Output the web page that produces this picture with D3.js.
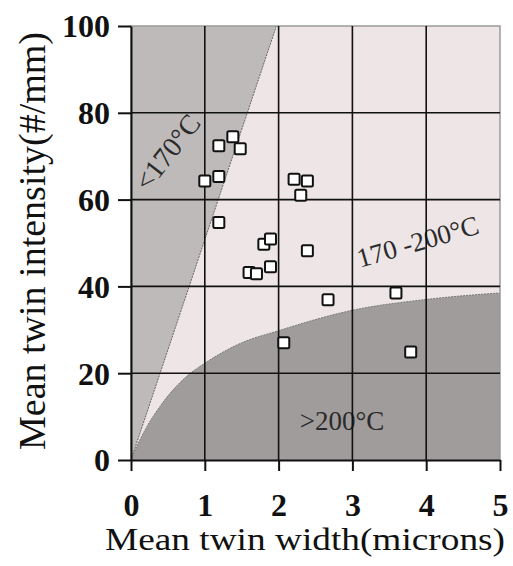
<!DOCTYPE html>
<meta charset="utf-8">

<!-- Import D3.js -->
<script src="https://d3js.org/d3.v7.min.js"></script>

<style>
body { margin: 0; background: #fff; }
text { font-family: "Liberation Serif", "Times New Roman", serif; }
</style>

<body>
<script>
// Measured points: mean twin width (microns) and mean twin intensity (#/mm)
var twinWidth = [1.0, 1.19, 1.19, 1.38, 1.48, 1.19, 2.21, 2.39, 2.30, 1.80, 1.89, 2.39, 1.60, 1.70, 1.89, 2.67, 3.59, 2.07, 3.79];
var twinIntensity = [64.3, 72.4, 65.3, 74.5, 71.7, 54.7, 64.7, 64.3, 61.0, 49.7, 50.9, 48.2, 43.2, 42.9, 44.5, 36.9, 38.5, 27.0, 24.9];

// Boundary between <170°C and 170-200°C (straight line)
var lowBoundX = [0, 1.97];
var lowBoundY = [0, 100];

// Boundary between 170-200°C and >200°C (curve)
var highBoundX = [0, 0.1, 0.2, 0.4, 0.77, 1, 1.5, 2, 3, 4, 5];
var highBoundY = [0, 3.9, 7.2, 12.5, 19.5, 22.3, 27, 29.8, 34.5, 37, 38.5];

// Tick labels
var xTicks = [0, 1, 2, 3, 4, 5];
var yTicks = [0, 20, 40, 60, 80, 100];

// Dimensions and margins
var margin = {top: 26, right: 13, bottom: 106, left: 131},
    width = 513 - margin.left - margin.right,
    height = 566 - margin.top - margin.bottom;

var svg = d3.select("body")
  .append("svg")
  .attr("width", 513)
  .attr("height", 566)
  .append("g")
  .attr("transform", "translate(" + margin.left + "," + margin.top + ")");

var x = d3.scaleLinear().domain([0, 5]).range([0, width]);
var y = d3.scaleLinear().domain([0, 100]).range([height, 0]);

// Background: 170-200°C zone
svg.append("rect")
  .attr("width", width)
  .attr("height", height)
  .attr("fill", "#ede5e6");

// <170°C zone, left of the straight boundary
var lowPts = lowBoundX.map(function(d, i) { return [d, lowBoundY[i]]; });
svg.append("path")
  .datum(lowPts.concat([[0, 100]]))
  .attr("fill", "#bfbaba")
  .attr("d", d3.line()
    .x(function(d) { return x(d[0]); })
    .y(function(d) { return y(d[1]); }));

// >200°C zone, under the curve
var highPts = highBoundX.map(function(d, i) { return [d, highBoundY[i]]; });
svg.append("path")
  .datum(highPts)
  .attr("fill", "#a09c9c")
  .attr("d", d3.area()
    .curve(d3.curveMonotoneX)
    .x(function(d) { return x(d[0]); })
    .y0(y(0))
    .y1(function(d) { return y(d[1]); }));

// Dotted boundary lines
svg.append("path")
  .datum(lowPts)
  .attr("fill", "none")
  .attr("stroke", "#666")
  .attr("stroke-width", 1)
  .attr("stroke-dasharray", "2,1")
  .attr("d", d3.line()
    .x(function(d) { return x(d[0]); })
    .y(function(d) { return y(d[1]); }));

svg.append("path")
  .datum(highPts)
  .attr("fill", "none")
  .attr("stroke", "#777")
  .attr("stroke-width", 1)
  .attr("stroke-dasharray", "2,1")
  .attr("d", d3.line()
    .curve(d3.curveMonotoneX)
    .x(function(d) { return x(d[0]); })
    .y(function(d) { return y(d[1]); }));

// Zone labels
svg.append("text")
  .attr("transform", "translate(" + (x(0.5) + 7) + "," + (y(70) + 2) + ") rotate(-52)")
  .attr("text-anchor", "middle")
  .attr("font-size", 28)
  .attr("fill", "#2a2a2a")
  .text("<170°C");

svg.append("text")
  .attr("transform", "translate(" + x(3.92) + "," + (y(49) + 3) + ") rotate(-16)")
  .attr("text-anchor", "middle")
  .attr("font-size", 27)
  .attr("fill", "#2a2a2a")
  .text("170 -200°C");

svg.append("text")
  .attr("x", x(2.86))
  .attr("y", y(7))
  .attr("text-anchor", "middle")
  .attr("font-size", 27)
  .attr("fill", "#2a2a2a")
  .text(">200°C");

// Frame on top and right
svg.append("rect")
  .attr("width", width)
  .attr("height", height)
  .attr("fill", "none")
  .attr("stroke", "#9a9a9a")
  .attr("stroke-width", 1.5);

// Grid lines
svg.selectAll(".vgrid")
  .data(xTicks.slice(1, -1))
  .enter()
  .append("line")
  .attr("class", "vgrid")
  .attr("x1", function(d) { return x(d); })
  .attr("x2", function(d) { return x(d); })
  .attr("y1", 0)
  .attr("y2", height)
  .attr("stroke", "#111")
  .attr("stroke-width", 1.6);

svg.selectAll(".hgrid")
  .data(yTicks.slice(1, -1))
  .enter()
  .append("line")
  .attr("class", "hgrid")
  .attr("x1", 0)
  .attr("x2", width)
  .attr("y1", function(d) { return y(d); })
  .attr("y2", function(d) { return y(d); })
  .attr("stroke", "#111")
  .attr("stroke-width", 1.6);

// Axes
var xAxis = svg.append("g")
  .attr("transform", "translate(0," + height + ")")
  .call(d3.axisBottom(x).tickValues(xTicks).tickFormat(d3.format("d"))
    .tickSize(11).tickPadding(22).tickSizeOuter(0));

var yAxis = svg.append("g")
  .call(d3.axisLeft(y).tickValues(yTicks).tickFormat(d3.format("d"))
    .tickSize(13).tickPadding(8).tickSizeOuter(0));

[xAxis, yAxis].forEach(function(ax) {
  ax.select(".domain").attr("stroke", "#111").attr("stroke-width", 2);
  ax.selectAll(".tick line").attr("stroke", "#111").attr("stroke-width", 2);
  ax.selectAll(".tick text")
    .attr("fill", "#111")
    .attr("font-family", "'Liberation Serif', serif")
    .attr("font-weight", "bold")
    .attr("font-size", 32);
});

yAxis.selectAll(".tick text").attr("dy", "0.34em");

// Data markers
svg.selectAll(".pt")
  .data(twinWidth)
  .enter()
  .append("rect")
  .attr("class", "pt")
  .attr("x", function(d) { return x(d) - 5.5; })
  .attr("y", function(d, i) { return y(twinIntensity[i]) - 5.5; })
  .attr("width", 11)
  .attr("height", 11)
  .attr("rx", 1.5)
  .attr("fill", "#fff")
  .attr("stroke", "#111")
  .attr("stroke-width", 2);

// Axis titles
d3.select("svg").append("text")
  .attr("x", 105)
  .attr("y", 550)
  .attr("font-size", 31)
  .attr("textLength", 400)
  .attr("lengthAdjust", "spacingAndGlyphs")
  .attr("fill", "#111")
  .text("Mean twin width(microns)");

d3.select("svg").append("text")
  .attr("transform", "translate(45,450) rotate(-90)")
  .attr("font-size", 37)
  .attr("textLength", 418)
  .attr("lengthAdjust", "spacingAndGlyphs")
  .attr("fill", "#111")
  .text("Mean twin intensity(#/mm)");

</script>
</body>
</html>
